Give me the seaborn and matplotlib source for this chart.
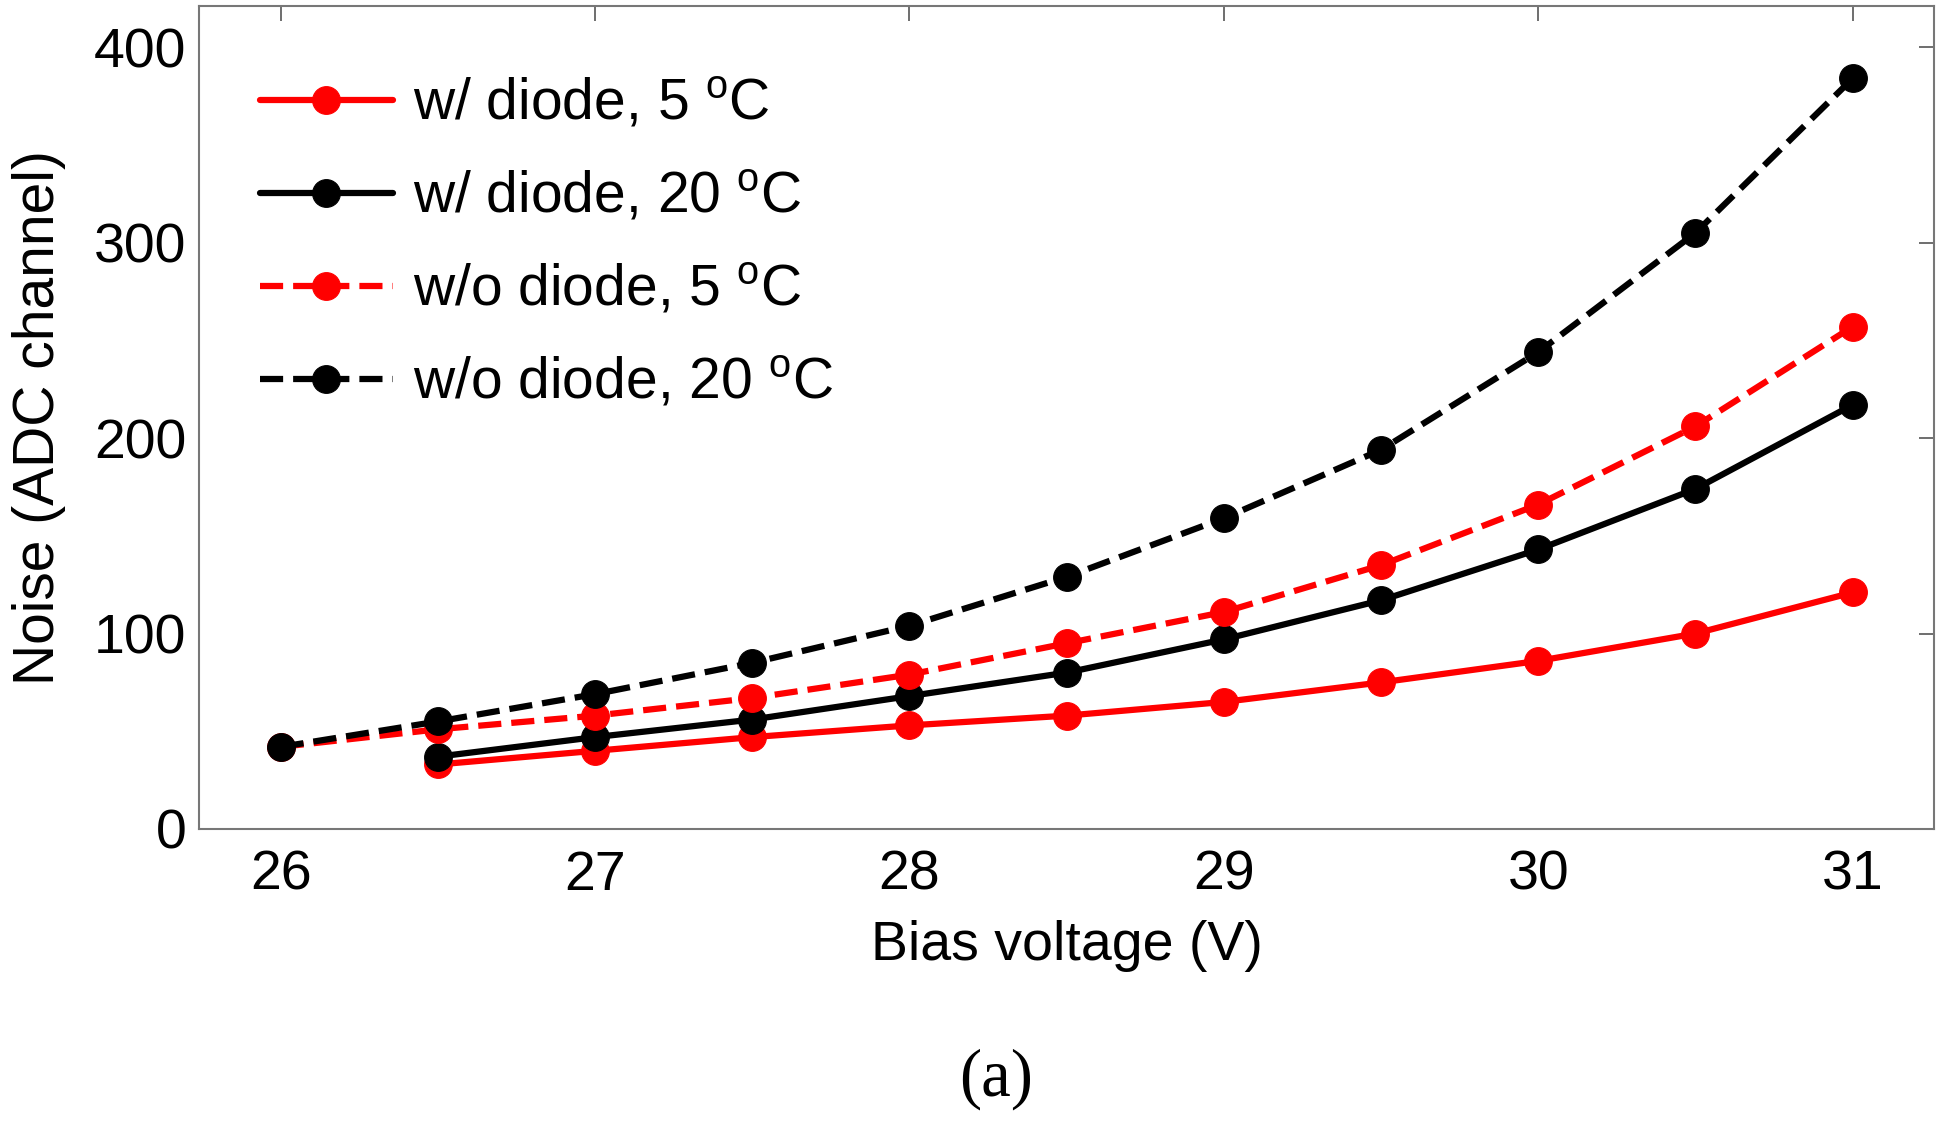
import pandas as pd
import matplotlib.pyplot as plt
import seaborn as sns

# Bias voltage (V)
bias_full = [26.0, 26.5, 27.0, 27.5, 28.0, 28.5, 29.0, 29.5, 30.0, 30.5, 31.0]
bias_diode = [26.5, 27.0, 27.5, 28.0, 28.5, 29.0, 29.5, 30.0, 30.5, 31.0]

# Noise (ADC channel)
diode_5c = [33, 40, 47, 53, 58, 65, 75, 86, 100, 121]
diode_20c = [37, 47, 56, 68, 80, 97, 117, 143, 174, 217]
nodiode_5c = [42, 51, 58, 67, 79, 95, 111, 135, 166, 206, 257]
nodiode_20c = [42, 55, 69, 85, 104, 129, 159, 194, 244, 305, 384]

labels = ["w/ diode, 5 $^{o}$C", "w/ diode, 20 $^{o}$C",
          "w/o diode, 5 $^{o}$C", "w/o diode, 20 $^{o}$C"]

sns.set_style("white")
plt.rcParams["font.family"] = ["Liberation Sans", "DejaVu Sans"]
plt.rcParams["mathtext.default"] = "regular"
plt.rcParams["text.color"] = "black"
plt.rcParams["axes.labelcolor"] = "black"
plt.rcParams["xtick.color"] = "black"
plt.rcParams["ytick.color"] = "black"

fig = plt.figure(figsize=(19.5, 11.21), dpi=100)
ax = fig.add_axes([0.102, 0.2605, 0.890, 0.734])

dash = (0, (3.7, 1.6))
series = [
    (bias_diode, diode_5c, "red", "-"),
    (bias_diode, diode_20c, "black", "-"),
    (bias_full, nodiode_5c, "red", dash),
    (bias_full, nodiode_20c, "black", dash),
]
for (x, y, c, ls), lab in zip(series, labels):
    df = pd.DataFrame({"Bias": x, "Noise": y})
    sns.lineplot(data=df, x="Bias", y="Noise", color=c, linestyle=ls,
                 linewidth=4.5, marker="o", markersize=20, markeredgecolor=c,
                 label=lab, ax=ax)

ax.set_xlim(25.74, 31.26)
ax.set_ylim(0, 421)
ax.set_xticks([26, 27, 28, 29, 30, 31])
ax.set_yticks([0, 100, 200, 300, 400])
ax.tick_params(direction="in", length=11, width=1.2, color="#555555",
               labelsize=40, top=True, right=True)
ax.tick_params(axis="x", pad=15)
ax.tick_params(axis="y", pad=9)
for s in ax.spines.values():
    s.set_color("#777777")
    s.set_linewidth(1.5)

ax.set_xlabel("Bias voltage (V)", fontsize=40, labelpad=13)
ax.set_ylabel("Noise (ADC channel)", fontsize=41, labelpad=20)

ax.legend(loc="upper left", frameon=False, fontsize=41, handlelength=2.35,
          handletextpad=0.35, labelspacing=0.68, borderaxespad=0.3,
          bbox_to_anchor=(0.012, 0.962))

fig.text(0.511, 0.0375, "(a)", fontsize=48, family="Liberation Serif",
         ha="center", va="center")

fig.savefig("out.png", dpi=100)
